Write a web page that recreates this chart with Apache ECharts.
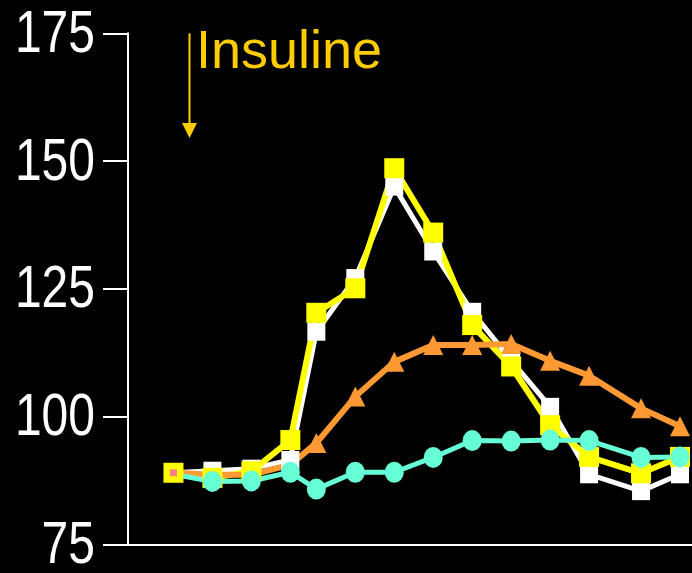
<!DOCTYPE html>
<html>
<head>
<meta charset="utf-8">
<script src="https://cdn.jsdelivr.net/npm/echarts@6/dist/echarts.min.js"></script>
<style>
html,body{margin:0;padding:0;background:#000;}
#chart{width:692px;height:573px;}
</style>
</head>
<body>
<div id="chart"></div>
<script>
// time points (minutes)
var times = [0, 15, 30, 45, 55, 70, 85, 100, 115, 130, 145, 160, 180, 195];
// series values
var whiteValues  = [89.0, 89.4, 89.8, 91.5, 116.6, 127.1, 145.0, 132.3, 120.5, 111.0, 101.9, 88.7, 85.4, 88.7];
var yellowValues = [89.0, 88.0, 89.3, 95.4, 120.3, 125.1, 148.6, 136.0, 117.9, 109.8, 98.3, 92.1, 88.9, 92.1];
var orangeValues = [89.0, 88.6, 88.6, 90.6, 94.8, 103.9, 110.7, 114.0, 114.0, 114.2, 110.9, 108.0, 101.6, 98.1];
var cyanValues   = [88.7, 87.3, 87.4, 89.1, 85.8, 89.1, 89.1, 92.0, 95.3, 95.2, 95.4, 95.3, 92.0, 92.1];
// y axis tick labels
var yTicks = [75, 100, 125, 150, 175];
var insulinTime = 6;
var insulinLabel = 'Insuline';

function pairs(vals) {
  return times.map(function (t, i) { return [t, vals[i]]; });
}

var orangeData = pairs(orangeValues).map(function (p, i) {
  if (i === 0) return { value: p, symbol: 'rect', symbolSize: 7, itemStyle: { color: '#FF7F7F' } };
  if (i < 4) return { value: p, symbol: 'none' };
  return { value: p };
});
var cyanData = pairs(cyanValues).map(function (p, i) {
  return i === 0 ? { value: p, symbol: 'none' } : { value: p };
});

var chart = echarts.init(document.getElementById('chart'), null, { renderer: 'canvas' });

chart.setOption({
  backgroundColor: '#000000',
  animation: false,
  grid: { left: 128, top: 33.3, width: 565, height: 511, containLabel: false, outerBoundsMode: 'none' },
  xAxis: {
    type: 'value', min: -17.5, max: 200,
    axisLine: { show: true, onZero: false, lineStyle: { color: '#FFFFFF', width: 2 } },
    axisTick: { show: false }, axisLabel: { show: false }, splitLine: { show: false }
  },
  yAxis: {
    type: 'value', min: yTicks[0], max: yTicks[yTicks.length - 1], interval: 25,
    axisLine: { show: true, onZero: false, lineStyle: { color: '#FFFFFF', width: 2 } },
    axisTick: { show: true, length: 25, inside: false, lineStyle: { color: '#FFFFFF', width: 2 } },
    axisLabel: { show: false },
    splitLine: { show: false }
  },
  series: [
    { type: 'line', data: pairs(whiteValues), symbol: 'rect', symbolSize: 18,
      lineStyle: { color: '#FFFFFF', width: 5 }, itemStyle: { color: '#FFFFFF' } },
    { type: 'line', data: pairs(yellowValues), symbol: 'rect', symbolSize: 20,
      lineStyle: { color: '#FFFF00', width: 6 }, itemStyle: { color: '#FFFF00' } },
    { type: 'line', data: orangeData, symbol: 'triangle', symbolSize: 20,
      lineStyle: { color: '#FF9933', width: 6 }, itemStyle: { color: '#FF9933' } },
    { type: 'line', data: cyanData, symbol: 'circle', symbolSize: [19, 21],
      lineStyle: { color: '#66FFD6', width: 5 }, itemStyle: { color: '#66FFD6' } }
  ]
});

var gridSel = { xAxisIndex: 0, yAxisIndex: 0 };
var arrowTop = chart.convertToPixel(gridSel, [insulinTime, 175]);
var ax = Math.round(arrowTop[0]) + 0.5;
var axisX = chart.convertToPixel(gridSel, [-17.5, 175])[0];

var graphics = [
  { type: 'line', shape: { x1: ax, y1: arrowTop[1], x2: ax, y2: 125 },
    style: { stroke: '#FFCC00', lineWidth: 2 } },
  { type: 'polygon', shape: { points: [[ax - 7.5, 123], [ax + 7.5, 123], [ax, 138]] },
    style: { fill: '#FFCC00' } },
  { type: 'text', x: ax + 6.5, y: 53,
    style: { text: insulinLabel, fill: '#FFCC00', font: "54px 'Liberation Sans', Arial, sans-serif",
             verticalAlign: 'middle', align: 'left' } }
];
yTicks.forEach(function (v) {
  var py = chart.convertToPixel(gridSel, [0, v])[1];
  graphics.push({ type: 'text', x: axisX - 33, y: py + 2, scaleX: 0.8,
    style: { text: String(v), fill: '#FFFFFF', font: "60px 'Liberation Sans', Arial, sans-serif",
             verticalAlign: 'middle', align: 'right' } });
});
chart.setOption({ graphic: graphics });
</script>
</body>
</html>
